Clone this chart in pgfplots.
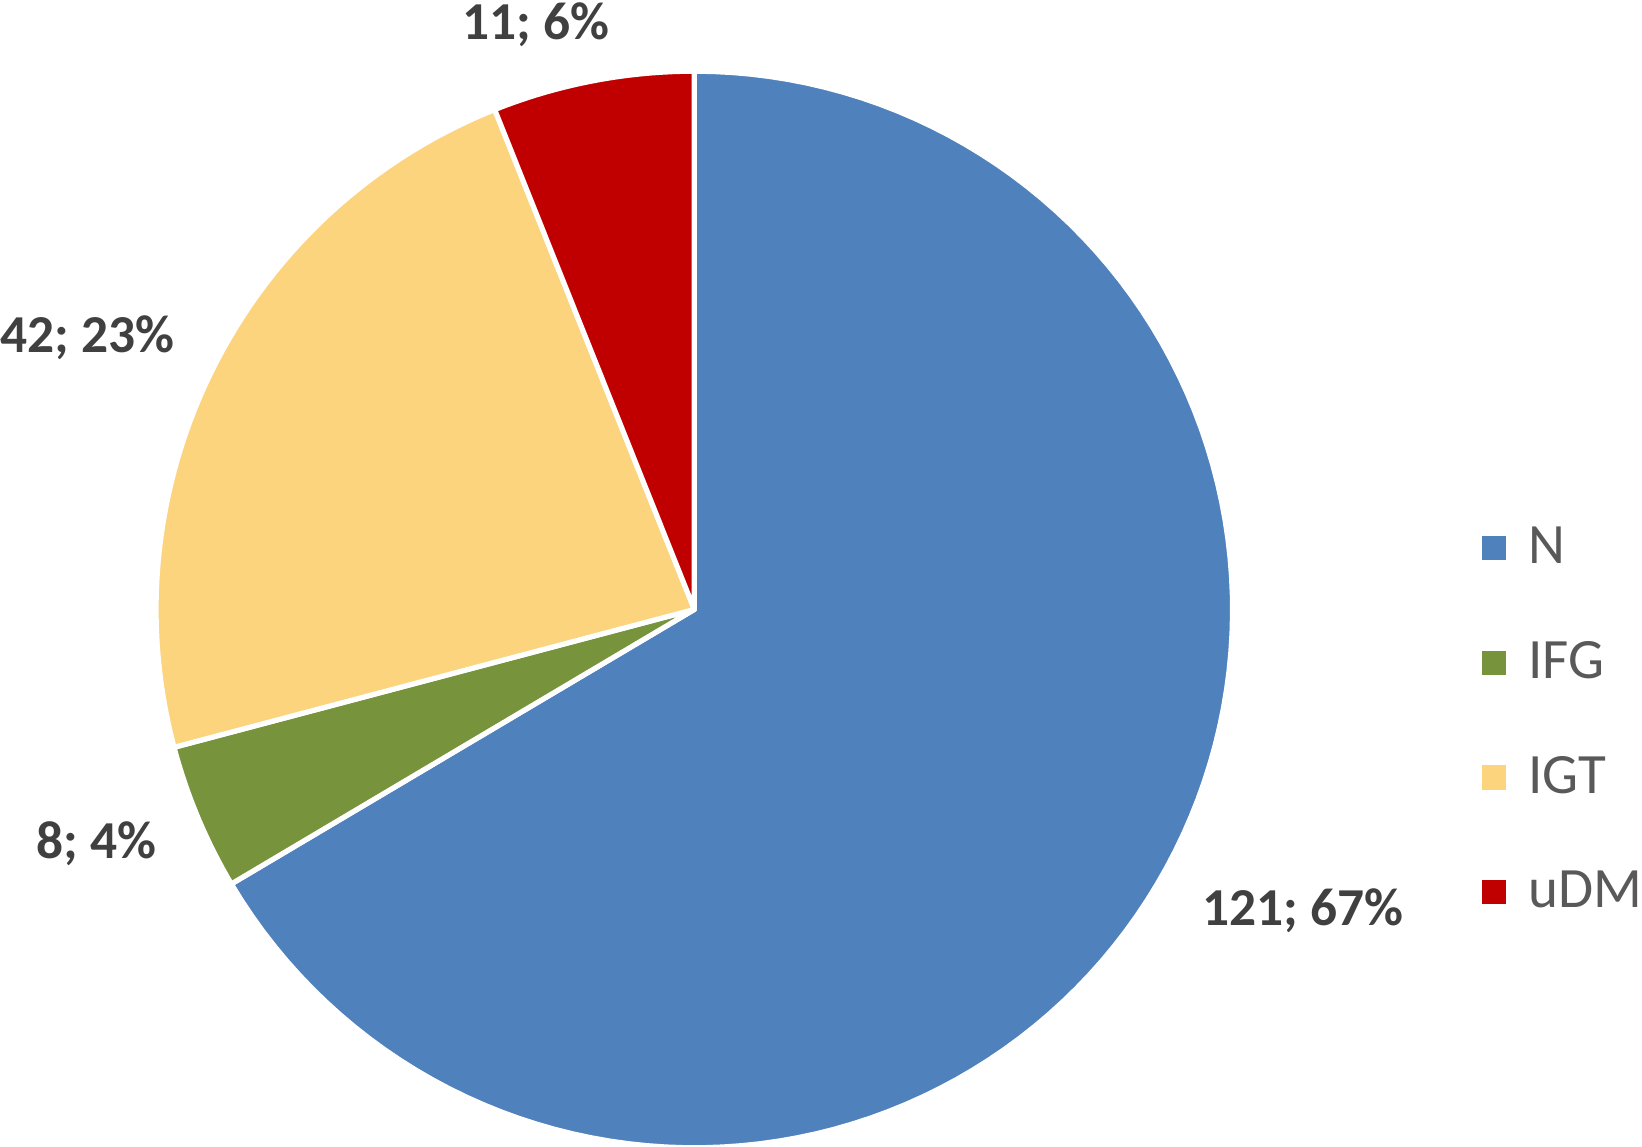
\documentclass[border=0pt]{standalone}
\usepackage{fontspec}
\setmainfont{Carlito}
\usepackage{pgfplots}
\pgfplotsset{compat=1.18}
\definecolor{cN}{HTML}{4F81BD}
\definecolor{cIFG}{HTML}{77933C}
\definecolor{cIGT}{HTML}{FCD47E}
\definecolor{cUDM}{HTML}{C00000}
\definecolor{labgray}{HTML}{404040}
\definecolor{leggray}{HTML}{595959}
\tikzset{lbl/.style={font=\fontsize{14.5}{17}\selectfont\bfseries, text=labgray}}
% data
\def\vN{121}\def\vIFG{8}\def\vIGT{42}\def\vUDM{11}
\pgfmathsetmacro\tot{\vN+\vIFG+\vIGT+\vUDM}
\pgfmathsetmacro\aA{90}
\pgfmathsetmacro\aB{\aA-360*(\vN/\tot)}
\pgfmathsetmacro\aC{\aB-360*(\vIFG/\tot)}
\pgfmathsetmacro\aD{\aC-360*(\vIGT/\tot)}
\pgfmathsetmacro\aE{\aD-360*(\vUDM/\tot)}
\begin{document}
\begin{tikzpicture}
\begin{axis}[
  scale only axis, width=15.68cm, height=10.95cm,
  xmin=-1.2899, xmax=1.7607, ymin=-0.998, ymax=1.1323,
  hide axis, clip=false,
  every axis plot/.append style={draw=white, line width=1.4pt, line join=round},
  legend image code/.code={\fill[#1,draw=none] (0cm,-0.115cm) rectangle (0.23cm,0.115cm);},
  legend style={draw=none, fill=none, at={(axis cs:1.464,0.167)}, anchor=north west,
     font=\fontsize{15.5}{18}\selectfont\color{leggray}, row sep=0.55cm, column sep=0.14cm,
     inner sep=0pt, outer sep=0pt, legend cell align=left},
]
\addplot[fill=cN, domain=\aB:\aA, samples=120] ({cos(x)},{sin(x)}) -- (0,0) -- cycle;
\addlegendentry{N}
\addplot[fill=cIFG, domain=\aC:\aB, samples=20] ({cos(x)},{sin(x)}) -- (0,0) -- cycle;
\addlegendentry{IFG}
\addplot[fill=cIGT, domain=\aD:\aC, samples=60] ({cos(x)},{sin(x)}) -- (0,0) -- cycle;
\addlegendentry{IGT}
\addplot[fill=cUDM, domain=\aE:\aD, samples=20] ({cos(x)},{sin(x)}) -- (0,0) -- cycle;
\addlegendentry{uDM}
\node[lbl] at (axis cs:1.130,-0.560) {121; 67\%};
\node[lbl] at (axis cs:-0.294,1.086) {11; 6\%};
\node[lbl] at (axis cs:-1.128,0.504) {42; 23\%};
\node[lbl] at (axis cs:-1.111,-0.436) {8; 4\%};
\end{axis}
\pgfresetboundingbox
\path[use as bounding box] (current axis.south west) rectangle (current axis.north east);
\end{tikzpicture}
\end{document}
